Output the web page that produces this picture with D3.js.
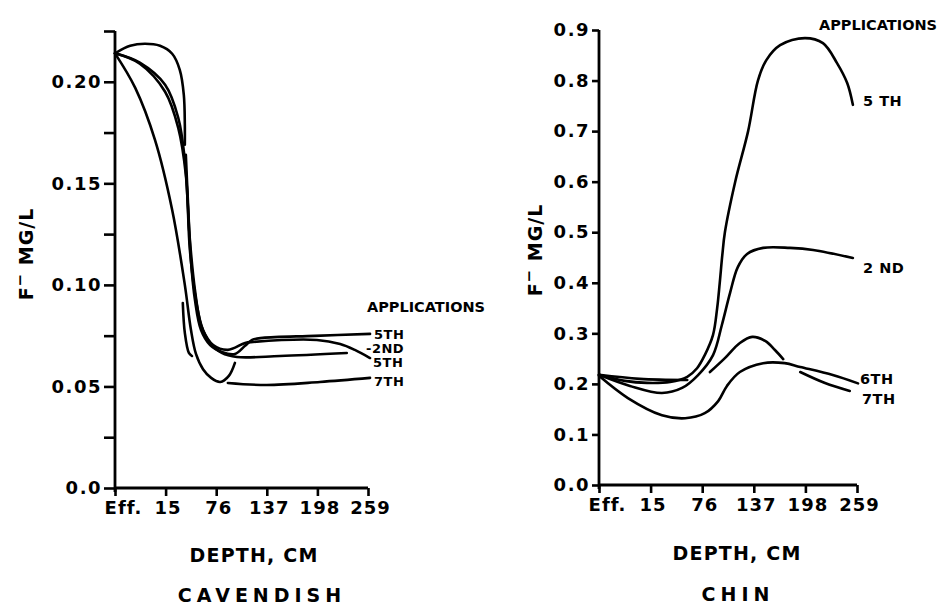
<!DOCTYPE html>
<html><head><meta charset="utf-8">
<script src="https://cdn.jsdelivr.net/npm/d3@7"></script>
<style>body{margin:0;background:#fff}svg{display:block}</style>
</head><body><svg id="c" width="948" height="605"></svg>
<script>
// ---------- data ----------
const depthLabels = ["Eff.", "15", "76", "137", "198", "259"];
const cavTicks = [0, 0.025, 0.05, 0.075, 0.10, 0.125, 0.15, 0.175, 0.20, 0.225];
const cavTickLabels = ["0.0", "", "0.05", "", "0.10", "", "0.15", "", "0.20", ""];
const chinTicks = [0, 0.1, 0.2, 0.3, 0.4, 0.5, 0.6, 0.7, 0.8, 0.9];
const chinTickLabels = ["0.0", "0.1", "0.2", "0.3", "0.4", "0.5", "0.6", "0.7", "0.8", "0.9"];
const seriesNames = ["5TH", "2ND", "5TH", "7TH"];
const chinSeriesNames = ["5 TH", "2 ND", "6TH", "7TH"];

// Cavendish (depth position as fractional category index; null = pen lifted)
const cav5thAPos = [0, 0.30, 0.59, 0.89, 1.13, 1.28, 1.36, 1.38, 1.38, null, 1.40, 1.44, 1.50, 1.58, 1.70, 1.88, 2.11, 2.37, 2.57, 2.71, 2.92, 3.95, 5.04];
const cav5thAVal = [0.214, 0.2177, 0.2187, 0.2177, 0.2138, 0.2059, 0.1936, 0.1788, 0.169, null, 0.164, 0.1419, 0.1123, 0.0926, 0.0778, 0.0704, 0.0670, 0.0660, 0.0700, 0.0729, 0.0739, 0.0749, 0.0759];
const cav2ndPos = [0, 0.49, 0.99, 1.25, 1.38, 1.48, 1.58, 1.70, 1.88, 2.11, 2.41, 3.26, 4.58, null, 1.34, 1.38, 1.46, 1.52];
const cav2ndVal = [0.214, 0.2094, 0.1985, 0.1823, 0.1616, 0.1222, 0.0975, 0.0803, 0.0714, 0.0665, 0.0645, 0.0650, 0.0665, null, 0.0911, 0.0764, 0.0665, 0.0650];
const cav5thBPos = [0, 0.49, 0.99, 1.25, 1.40, 1.48, 1.60, 1.74, 1.94, 2.23, 2.57, 2.73, 3.99, 4.45, 4.74, 5.04];
const cav5thBVal = [0.214, 0.2089, 0.1951, 0.1773, 0.1542, 0.1172, 0.0926, 0.0778, 0.0704, 0.0680, 0.0714, 0.0719, 0.0729, 0.0709, 0.0680, 0.0640];
const cav7thPos = [0, 0.40, 0.79, 1.13, 1.38, 1.50, 1.60, 1.74, 1.90, 2.08, 2.25, 2.37, null, 2.23, 3.00, 4.05, 5.04];
const cav7thVal = [0.214, 0.1970, 0.1714, 0.1369, 0.1000, 0.0780, 0.0660, 0.0585, 0.0542, 0.0522, 0.0552, 0.0616, null, 0.0517, 0.0507, 0.0522, 0.0542];

// Chin
const chin5thPos = [0, 0.50, 0.93, 1.38, 1.71, 1.90, 2.05, 2.21, 2.29, 2.34, 2.39, 2.44, 2.64, 2.89, 3.08, 3.24, 3.51, 3.99, 4.34, 4.61, 4.81, 4.92];
const chin5thVal = [0.218, 0.206, 0.202, 0.204, 0.214, 0.231, 0.257, 0.297, 0.350, 0.400, 0.455, 0.500, 0.600, 0.700, 0.800, 0.840, 0.870, 0.884, 0.874, 0.835, 0.795, 0.752];
const chin2ndPos = [0, 0.60, 1.22, 1.61, 1.92, 2.21, 2.38, 2.54, 2.69, 2.87, 3.18, 3.70, 4.15, 4.92];
const chin2ndVal = [0.218, 0.196, 0.182, 0.192, 0.2175, 0.257, 0.316, 0.380, 0.431, 0.457, 0.469, 0.469, 0.465, 0.449];
const chin6thPos = [0, 0.56, 1.22, 1.67, 2.05, 2.31, 2.48, 2.73, 3.18, 3.60, 3.90, 4.53, 5.02];
const chin6thVal = [0.216, 0.172, 0.138, 0.132, 0.142, 0.166, 0.196, 0.2235, 0.241, 0.241, 0.2335, 0.2175, 0.201];
const chin7thPos = [0, 0.79, 1.71, null, 2.15, 2.44, 2.73, 2.97, 3.22, 3.41, 3.57, null, 3.90, 4.38, 4.86];
const chin7thVal = [0.218, 0.210, 0.2077, null, 0.2235, 0.251, 0.281, 0.293, 0.285, 0.267, 0.249, null, 0.2235, 0.2017, 0.186];

// ---------- drawing ----------
const svg = d3.select("#c");
const FONT = "'DejaVu Sans', sans-serif";
const zip = (p, v) => p.map((x, i) => [x, v[i]]);

function panel(cfg) {
  const x = d3.scaleLinear().domain([0, 5]).range(cfg.xr);
  const y = d3.scaleLinear().domain(cfg.yd).range(cfg.yr);
  const g = svg.append("g");

  const yAxis = d3.axisLeft(y).tickValues(cfg.ticks)
    .tickFormat((d, i) => cfg.tickLabels[i]).tickSize(cfg.ytick).tickSizeOuter(0).tickPadding(2);
  const ya = g.append("g").attr("transform", `translate(${cfg.xr[0]},0)`).call(yAxis);
  ya.select(".domain").attr("stroke-width", 2.8).attr("d", `M0,${cfg.yr[0] + 4}V${cfg.yr[1]}`);
  ya.selectAll(".tick line").attr("stroke-width", 2.6);
  ya.selectAll("text").attr("font-family", FONT).attr("font-weight", "bold")
    .attr("font-size", 18).attr("letter-spacing", 1.5).attr("fill", "#000");

  const xAxis = d3.axisBottom(x).tickValues([0, 1, 2, 3, 4, 5])
    .tickFormat((d, i) => depthLabels[i]).tickSize(8).tickSizeOuter(0).tickPadding(5);
  const xa = g.append("g").attr("transform", `translate(0,${cfg.yr[0]})`).call(xAxis);
  xa.select(".domain").attr("stroke-width", 2.8).attr("d", `M${cfg.xr[0]},0H${cfg.xr[1]}`);
  xa.selectAll(".tick line").attr("stroke-width", 2.6);
  xa.selectAll("text").attr("font-family", FONT).attr("font-weight", "bold")
    .attr("font-size", 18).attr("letter-spacing", 1).attr("fill", "#000")
    .attr("dx", (d, i) => i === 0 ? 8 : 2);

  const line = d3.line().defined(d => d[0] != null && d[1] != null)
    .x(d => x(d[0])).y(d => y(d[1])).curve(d3.curveCatmullRom.alpha(0.5));
  cfg.series.forEach(s => {
    g.append("path").attr("d", line(s)).attr("fill", "none").attr("stroke", "#000")
      .attr("stroke-width", 2.6).attr("stroke-linecap", "round").attr("stroke-linejoin", "round");
  });

  // axis titles
  g.append("text").attr("x", cfg.xtitle[0]).attr("y", cfg.xtitle[1]).attr("text-anchor", "middle")
    .attr("font-family", FONT).attr("font-weight", "bold").attr("font-size", 19).attr("letter-spacing", 1.2)
    .text("DEPTH, CM");
  g.append("text").attr("x", cfg.name[0]).attr("y", cfg.name[1]).attr("text-anchor", "middle")
    .attr("font-family", FONT).attr("font-weight", "bold").attr("font-size", 19).attr("letter-spacing", 5)
    .text(cfg.nameText);
  const yt = g.append("text").attr("transform", `translate(${cfg.ytitle[0]},${cfg.ytitle[1]}) rotate(-90)`)
    .attr("text-anchor", "middle").attr("font-family", FONT).attr("font-weight", "bold")
    .attr("font-size", 19).attr("letter-spacing", 1);
  yt.append("tspan").text("F");
  yt.append("tspan").attr("dy", -8).attr("font-size", 15).text("\u2212");
  yt.append("tspan").attr("dy", 8).text(" MG/L");

  // legend texts
  g.append("text").attr("x", cfg.appl[0]).attr("y", cfg.appl[1]).attr("font-family", FONT)
    .attr("font-weight", "bold").attr("font-size", 14.5).text("APPLICATIONS");
  cfg.labels.forEach(l => {
    g.append("text").attr("x", l[0]).attr("y", l[1]).attr("font-family", FONT)
      .attr("font-weight", "bold").attr("font-size", cfg.labelSize).attr("letter-spacing", 0.5).text(l[2]);
  });
}

panel({
  xr: [115, 368], yd: [0, 0.225], yr: [488, 31], ytick: 11, labelSize: 13,
  ticks: cavTicks, tickLabels: cavTickLabels,
  series: [zip(cav5thAPos, cav5thAVal), zip(cav2ndPos, cav2ndVal), zip(cav5thBPos, cav5thBVal), zip(cav7thPos, cav7thVal)],
  xtitle: [254, 562], name: [262, 602], nameText: "CAVENDISH", ytitle: [33, 254],
  appl: [367, 312],
  labels: [[374, 339, seriesNames[0]], [366, 353, "-" + seriesNames[1]], [373, 367, seriesNames[2]], [374, 386, seriesNames[3]]]
});

panel({
  xr: [599, 857], yd: [0, 0.9], yr: [485, 30], ytick: 7, labelSize: 14.5,
  ticks: chinTicks, tickLabels: chinTickLabels,
  series: [zip(chin5thPos, chin5thVal), zip(chin2ndPos, chin2ndVal), zip(chin6thPos, chin6thVal), zip(chin7thPos, chin7thVal)],
  xtitle: [737, 560], name: [738, 601], nameText: "CHIN", ytitle: [542, 250],
  appl: [819, 30],
  labels: [[863, 106, chinSeriesNames[0]], [863, 273, chinSeriesNames[1]], [860, 384, chinSeriesNames[2]], [862, 404, chinSeriesNames[3]]]
});
</script></body></html>
